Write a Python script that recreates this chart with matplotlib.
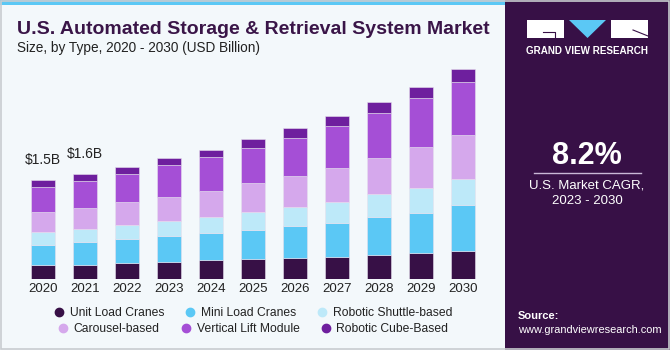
#!/usr/bin/env python3
"""
U.S. automated storage & retrieval system market, stacked bars by type.
"""

import matplotlib.pyplot as plt
import numpy as np
from matplotlib.lines import Line2D
from matplotlib.patches import Polygon, Rectangle

# Data (USD billion)
YEARS = ["2020", "2021", "2022", "2023", "2024", "2025", "2026", "2027", "2028", "2029", "2030"]
SEGMENTS = [
    "Unit Load Cranes",
    "Mini Load Cranes",
    "Robotic Shuttle-based",
    "Carousel-based",
    "Vertical Lift Module",
    "Robotic Cube-Based",
]
unit_load = [0.199, 0.214, 0.234, 0.260, 0.276, 0.302, 0.317, 0.328, 0.363, 0.389, 0.424]
mini_load = [0.315, 0.337, 0.363, 0.383, 0.413, 0.444, 0.485, 0.521, 0.571, 0.613, 0.694]
shuttle = [0.194, 0.208, 0.219, 0.239, 0.254, 0.276, 0.296, 0.326, 0.352, 0.387, 0.404]
carousel = [0.306, 0.322, 0.348, 0.368, 0.398, 0.433, 0.470, 0.521, 0.562, 0.617, 0.668]
vlm = [0.383, 0.409, 0.433, 0.481, 0.511, 0.547, 0.582, 0.639, 0.685, 0.750, 0.822]
cube = [0.103, 0.112, 0.103, 0.107, 0.112, 0.138, 0.153, 0.147, 0.168, 0.179, 0.188]
LABELS = {0: "$1.5B", 1: "$1.6B"}

# Style
BG_COLOR = "#F3F8FB"
PANEL = "#371046"
TITLE_COLOR = "#3A1548"
TEXT_DARK = "#222222"
COLORS = ["#371046", "#5BC8F5", "#BDE9F9", "#D5A8EC", "#A54FD6", "#6E1F9E"]
FONT = "Liberation Sans"

W, H = 670, 350


def fx(px):
    return px / W


def fy(py):
    # pixel row measured from the top
    return 1 - py / H


def draw_panel(fig):
    fig.patches.append(Rectangle((fx(505), 0), fx(165), 1, transform=fig.transFigure,
                                 facecolor=PANEL, edgecolor="none", zorder=0))
    # gradient at the bottom of the panel
    gax = fig.add_axes([fx(505), 0, fx(163), fy(283)])
    grad = np.linspace(0, 1, 100)[:, None]
    cmap = plt.matplotlib.colors.LinearSegmentedColormap.from_list(
        "panel", ["#4AB6E6", "#4A78B8", "#3B2A66", PANEL])
    gax.imshow(grad, aspect="auto", cmap=cmap, extent=[0, 1, 0, 1], origin="lower")
    for yy in np.linspace(0.05, 0.85, 9):
        gax.plot([0, 1], [yy, yy + 0.04], color="white", alpha=0.12, lw=0.6)
    for xx in np.linspace(-0.6, 1.6, 18):
        gax.plot([xx, 0.5 + (xx - 0.5) * 0.35], [0, 0.9], color="white", alpha=0.12, lw=0.6)
    gax.set_xlim(0, 1)
    gax.set_ylim(0, 1)
    gax.axis("off")

    # logo
    lx = fig.add_axes([0, 0, 1, 1], zorder=3)
    lx.set_xlim(0, W)
    lx.set_ylim(H, 0)
    lx.axis("off")
    lx.add_patch(Rectangle((527, 20), 37, 18, facecolor="white", edgecolor="none"))
    lx.add_patch(Polygon([(569, 20), (606, 20), (587.5, 38)], facecolor="#5BC8F5", edgecolor="none"))
    lx.add_patch(Rectangle((611, 20), 37, 18, facecolor="white", edgecolor="none"))
    lx.plot([543, 555, 555], [32, 32, 38], color=PANEL, lw=0.8)
    lx.plot([633, 648], [30, 36], color=PANEL, lw=0.8)
    lx.text(587, 51, "GRAND VIEW RESEARCH", color="white", fontsize=7.1, fontweight="bold",
            ha="center", va="center", family=FONT)

    lx.text(587, 156, "8.2%", color="white", fontsize=22, fontweight="bold",
            ha="center", va="center", family=FONT)
    lx.plot([534, 641], [173, 173], color="#C9B8D6", lw=1.0)
    lx.text(587, 186, "U.S. Market CAGR,", color="white", fontsize=9.5,
            ha="center", va="center", family=FONT)
    lx.text(587, 201, "2023 - 2030", color="white", fontsize=9.5,
            ha="center", va="center", family=FONT)
    lx.text(518, 316, "Source:", color="white", fontsize=8, fontweight="bold",
            ha="left", va="center", family=FONT)
    lx.text(518, 330, "www.grandviewresearch.com", color="white", fontsize=7.9,
            ha="left", va="center", family=FONT)

    # top strip and frame
    lx.add_patch(Rectangle((0, 0), 505, 5, facecolor="#5BC8F5", edgecolor="none"))
    lx.add_patch(Rectangle((0.5, 0.5), W - 1.5, H - 2, facecolor="none", edgecolor="#C8CCD0", lw=1.2))
    return lx


def main() -> None:
    fig = plt.figure(figsize=(6.7, 3.5), dpi=100)
    fig.patch.set_facecolor(BG_COLOR)

    # bar axes: 2020 centred at 42.8 px, 42 px per year, baseline at 278.5 px
    base_px, top_px = 278.5, 60
    px_per_b = 65.35
    ax = fig.add_axes([0, fy(base_px), fx(505), (base_px - top_px) / H])
    ax.set_facecolor("none")
    x = np.arange(len(YEARS))
    series = [unit_load, mini_load, shuttle, carousel, vlm, cube]
    bottom = np.zeros(len(YEARS))
    for vals, color in zip(series, COLORS):
        vals = np.asarray(vals)
        ax.bar(x, vals, width=0.57, bottom=bottom, color=color,
               edgecolor="#E6E0EE", linewidth=0.4, zorder=2)
        bottom += vals
    for i, txt in LABELS.items():
        ax.text(x[i], bottom[i] + 0.2, txt, ha="center", va="bottom",
                fontsize=10, color=TEXT_DARK, family=FONT)

    ax.set_xlim(-42.8 / 42, (505 - 42.8) / 42)
    ax.set_ylim(0, (base_px - top_px) / px_per_b)
    ax.set_xticks(x)
    ax.set_xticklabels(YEARS, fontsize=9.5, color=TEXT_DARK, family=FONT)
    ax.tick_params(axis="x", length=0, pad=3)
    ax.set_yticks([])
    for s in ax.spines.values():
        s.set_visible(False)

    fig.text(fx(17), fy(30), "U.S. Automated Storage & Retrieval System Market",
             fontsize=14.0, fontweight="bold", color=TITLE_COLOR, ha="left", va="center", family=FONT)
    fig.text(fx(17), fy(48), "Size, by Type, 2020 - 2030 (USD Billion)",
             fontsize=9.8, color=TEXT_DARK, ha="left", va="center", family=FONT)

    handles = [Line2D([], [], marker="o", ls="none", markersize=6, color=c) for c in COLORS]
    for row, ypx in enumerate([313, 329]):
        sl = slice(row * 3, row * 3 + 3)
        leg = fig.legend(handles[sl], SEGMENTS[sl], loc="center", ncol=3,
                         bbox_to_anchor=(fx(253), fy(ypx)), frameon=False,
                         handletextpad=0.45, columnspacing=1.7, handlelength=0.9,
                         borderpad=0, prop={"family": FONT, "size": 8.7})
        for t in leg.get_texts():
            t.set_color(TEXT_DARK)

    draw_panel(fig)
    fig.savefig("out.png", dpi=100, facecolor=BG_COLOR)


if __name__ == "__main__":
    main()
